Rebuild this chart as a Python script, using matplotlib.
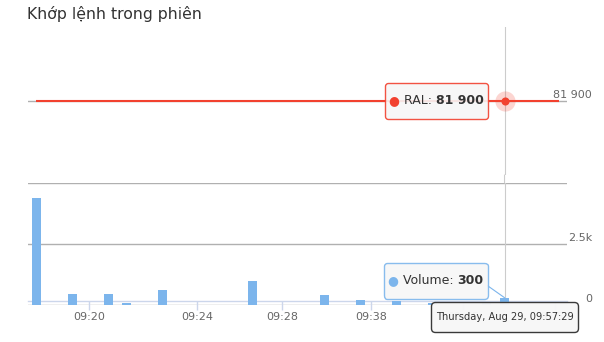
import matplotlib
matplotlib.use("Agg")
import matplotlib.pyplot as plt
from matplotlib.offsetbox import TextArea, HPacker, VPacker, DrawingArea, AnnotationBbox
from matplotlib.patches import ConnectionPatch

# ---------------- data ----------------
title = "Khớp lệnh trong phiên"
price_idx = list(range(30))
price = [81900] * 30
vol_idx = [0, 2, 4, 5, 7, 12, 16, 18, 20, 22, 25, 26]
volume = [4400, 450, 450, 100, 600, 1000, 400, 200, 150, 100, 100, 300]
xtick_pos = [2.93, 8.93, 13.66, 18.57, 23.7, 28.8]
xtick_labels = ["09:20", "09:24", "09:28", "09:38", "09:45", "09:53"]
vol_ticks = [0, 2500, 5000]
vol_tick_labels = ["0", "2.5k", ""]
price_ticks = [81900]
price_tick_labels = ["81 900"]
hover = 26
series_name = "RAL"
vol_name = "Volume"
hover_label = "Thursday, Aug 29, 09:57:29"

RED = "#f2412f"
BLUE = "#7cb5ec"
GRID = "#b0b0b0"
AXIS = "#ccd6eb"
TXT = "#666666"

plt.rcParams['font.family'] = ['DejaVu Sans']

W, H = 604, 342
fig = plt.figure(figsize=(W / 100, H / 100), dpi=100)

def rect(x0, y0, x1, y1):
    return [x0 / W, 1 - y1 / H, (x1 - x0) / W, (y1 - y0) / H]

xlim = (-0.47, 29.47)

# ---------------- top panel ----------------
ax1 = fig.add_axes(rect(28, 27, 567, 175))
ax1.set_xlim(*xlim)
ax1.set_ylim(81900 - 100, 81900 + 100)
for s in ax1.spines.values():
    s.set_visible(False)
ax1.set_xticks([])
ax1.set_yticks([])
for v in price_ticks:
    ax1.axhline(v, color=GRID, lw=1, zorder=1)
for v, lab in zip(price_ticks, price_tick_labels):
    ax1.annotate(lab, xy=(1.0, v), xycoords=ax1.get_yaxis_transform(),
                 xytext=(25, 1), textcoords='offset pixels', ha='right', va='bottom',
                 fontsize=8, color=TXT)
ax1.plot(price_idx, price, color=RED, lw=1.5, zorder=3, solid_capstyle='butt')
ax1.axvline(hover, color="#cccccc", lw=0.8, zorder=2)
hp = price[price_idx.index(hover)]
ax1.scatter([hover], [hp], s=210, color=RED, alpha=0.22, lw=0, zorder=4)
ax1.scatter([hover], [hp], s=34, color=RED, lw=0, zorder=5)


def tip(ax, xy, parts, edge, off, fs=9, vpad=5.4, pad=0.55, coords='data', alpha=0.9):
    kids = []
    for s, c, w in parts:
        kids.append(TextArea(s, textprops=dict(color=c, fontsize=fs, fontweight=w)))
    row = HPacker(children=kids, align='baseline', pad=0, sep=0)
    box = VPacker(children=[DrawingArea(1, vpad), row, DrawingArea(1, vpad)],
                  align='center', pad=0, sep=0)
    ab = AnnotationBbox(box, xy, xybox=off, xycoords=coords, boxcoords='offset pixels',
                        box_alignment=(0.5, 0.5), frameon=True, pad=pad,
                        bboxprops=dict(boxstyle='round,pad=0.3,rounding_size=0.25',
                                       ec=edge, fc='#f7f7f7', alpha=alpha, lw=1),
                        zorder=10, annotation_clip=False)
    ax.add_artist(ab)
    return ab


tip(ax1, (hover, hp),
    [("● ", RED, 'normal'), (series_name + ": ", "#333333", 'normal'),
     ("81 900", "#333333", 'bold')], RED, (-68, 0))

# ---------------- bottom panel ----------------
ax2 = fig.add_axes(rect(28, 183, 567, 305))
ax2.set_xlim(*xlim)
ax2.set_ylim(0, 5000)
for k in ['top', 'left', 'right']:
    ax2.spines[k].set_visible(False)
ax2.spines['bottom'].set_position(('axes', 0.03))
ax2.spines['bottom'].set_color(AXIS)
ax2.spines['bottom'].set_linewidth(1)
ax2.set_yticks([])
for v in vol_ticks:
    ax2.axhline(v, color=GRID, lw=1, zorder=1)
for v, lab in zip(vol_ticks, vol_tick_labels):
    if lab:
        ax2.annotate(lab, xy=(1.0, v), xycoords=ax2.get_yaxis_transform(),
                     xytext=(25, 1), textcoords='offset pixels', ha='right', va='bottom',
                     fontsize=8, color=TXT)
ax2.set_xticks(xtick_pos)
ax2.set_xticklabels(xtick_labels, fontsize=8, color=TXT)
ax2.tick_params(axis='x', length=6.5, width=1, color=AXIS, pad=1.5)
ax2.bar(vol_idx, volume, width=0.5, color=BLUE, zorder=3)
ax2.axvline(hover, color="#cccccc", lw=0.8, zorder=2)

con = ConnectionPatch(xyA=(hover, 0), coordsA=ax1.get_xaxis_transform(),
                      xyB=(hover, 1), coordsB=ax2.get_xaxis_transform(),
                      color="#cccccc", lw=0.8)
fig.add_artist(con)

hv = volume[vol_idx.index(hover)]
tip(ax2, (hover, hv),
    [("● ", BLUE, 'normal'), (vol_name + ": ", "#333333", 'normal'),
     (str(hv), "#333333", 'bold')], BLUE, (-69, 17))
ax2.annotate("", xy=(hover, hv), xytext=(-17, 12), textcoords='offset pixels',
             arrowprops=dict(arrowstyle='-', color=BLUE, lw=0.8, shrinkA=0, shrinkB=0),
             zorder=9)

tip(ax2, (hover, 0), [(hover_label, "#333333", 'normal')], "#333333", (0, -12),
    fs=7.1, vpad=4.0, pad=0.6, coords=ax2.get_xaxis_transform(), alpha=0.97)

fig.text(27 / W, 1 - 14 / H, title, fontsize=11.3, color="#333333", va='center', ha='left')

fig.savefig("out.png", dpi=100)
